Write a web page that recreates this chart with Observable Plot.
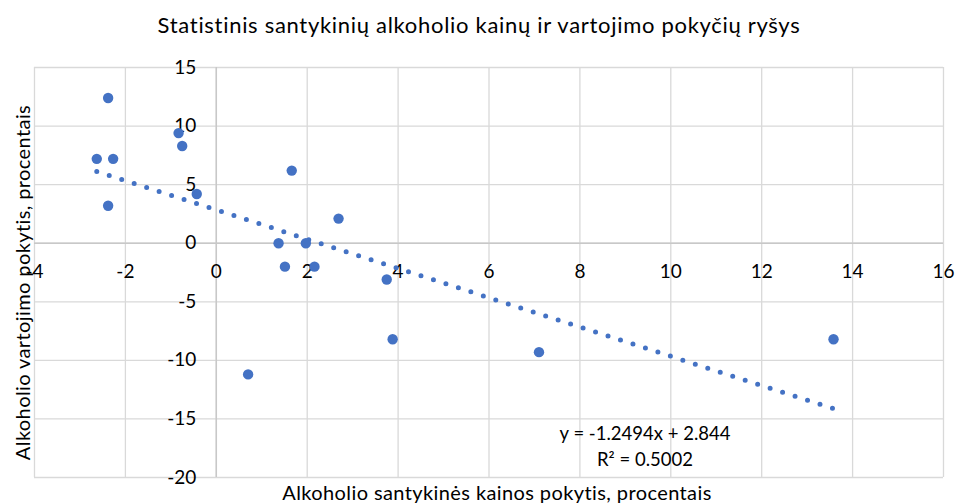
<!DOCTYPE html>
<html><head><meta charset="utf-8">
<script src="https://cdn.jsdelivr.net/npm/d3@7"></script>
<script src="https://cdn.jsdelivr.net/npm/@observablehq/plot@0.6"></script>
<style>
body{margin:0;background:#fff;} #chart svg{display:block;}
.title-text text{letter-spacing:0.7px;}
.axis-title text{letter-spacing:0.4px;}
</style>
</head><body><div id="chart"></div>
<script>
// Data
const priceChange =       [-2.38, -2.63, -2.27, -2.38, -0.83, -0.75, -0.43, 1.66, 2.69, 1.37, 1.97, 1.51, 2.16, 3.75, 0.70, 3.88, 7.10, 13.58];
const consumptionChange = [12.4,   7.2,   7.2,   3.2,   9.4,   8.3,   4.2,  6.2,  2.1,  0.0,  0.0, -2.0, -2.0, -3.1, -11.2, -8.2, -9.3, -8.2];
const xTicks = [-4, -2, 0, 2, 4, 6, 8, 10, 12, 14, 16];
const yTicks = [15, 10, 5, 0, -5, -10, -15, -20];
const trendSlope = -1.2494;
const trendIntercept = 2.844;
const equationLines = ["y = -1.2494x + 2.844", "R² = 0.5002"];
const titleText = "Statistinis santykinių alkoholio kainų ir vartojimo pokyčių ryšys";
const xTitle = "Alkoholio santykinės kainos pokytis, procentais";
const yTitle = "Alkoholio vartojimo pokytis, procentais";

const points = priceChange.map((x, i) => ({x, y: consumptionChange[i]}));
const xExtent = d3.extent(priceChange);
const trend = xExtent.map(x => ({x, y: trendSlope * x + trendIntercept}));

const font = "Lato, 'Open Sans', sans-serif";
const grid = "#d9d9d9";
const blue = "#4472c4";

const chart = Plot.plot({
  width: 955,
  height: 504,
  marginLeft: 34,
  marginRight: 12,
  marginTop: 67,
  marginBottom: 27,
  style: {fontFamily: font, background: "#fff", color: "#000"},
  x: {domain: [-4, 16], axis: null},
  y: {domain: [-20, 15], axis: null},
  marks: [
    Plot.ruleX(xTicks, {x: d => d, stroke: grid, strokeWidth: 1.3}),
    Plot.ruleY(yTicks, {y: d => d, stroke: grid, strokeWidth: 1.3}),
    Plot.ruleX([0], {stroke: "#c8c8c8", strokeWidth: 1.5}),
    Plot.ruleY([0], {stroke: "#c8c8c8", strokeWidth: 1.5}),
    Plot.text(xTicks, {x: d => d, y: 0, text: d => String(d), dy: 29, fontSize: 19, fill: "#000"}),
    Plot.text(yTicks, {x: 0, y: d => d, text: d => String(d), textAnchor: "end", dx: -20, fontSize: 19, fill: "#000"}),
    Plot.line(trend, {x: "x", y: "y", stroke: blue, strokeWidth: 5, strokeDasharray: "0 13.1", strokeLinecap: "round"}),
    Plot.dot(points, {x: "x", y: "y", r: 5.2, fill: blue, stroke: "none"}),
    Plot.text([titleText], {className: "title-text", frameAnchor: "top", lineAnchor: "middle", dx: -10, dy: -42, fontSize: 22, fill: "#000", text: d => d}),
    Plot.text([xTitle], {className: "axis-title", frameAnchor: "bottom", lineAnchor: "middle", dx: 8, dy: 16, fontSize: 20, fill: "#000", text: d => d}),
    Plot.text([yTitle], {className: "axis-title", frameAnchor: "left", textAnchor: "middle", lineAnchor: "middle", rotate: -90, dx: -11, dy: 10, fontSize: 20, fill: "#000", text: d => d}),
    Plot.text([equationLines[0]], {frameAnchor: "bottom-left", lineAnchor: "middle", textAnchor: "middle", dx: 610.5, dy: -43, fontSize: 18.5, fill: "#000", text: d => d}),
    Plot.text([equationLines[1]], {frameAnchor: "bottom-left", lineAnchor: "middle", textAnchor: "middle", dx: 610.5, dy: -17, fontSize: 18.5, fill: "#000", text: d => d})
  ]
});
document.getElementById("chart").appendChild(chart);
</script>
</body></html>
